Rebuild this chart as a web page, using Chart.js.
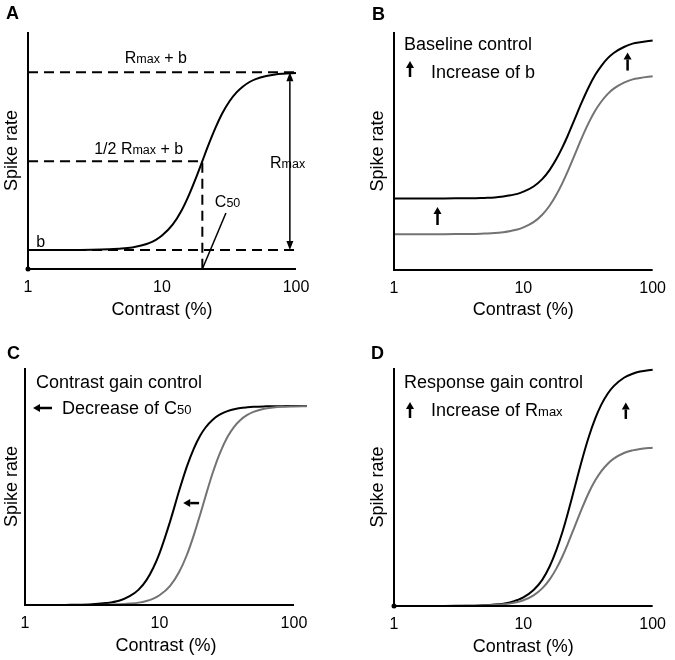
<!DOCTYPE html>
<html>
<head>
<meta charset="utf-8">
<script src="https://cdn.jsdelivr.net/npm/chart.js@4.4.1/dist/chart.umd.min.js"></script>
<style>
  body { margin: 0; background: #fff; overflow: hidden; }
  #wrap { position: relative; width: 675px; height: 660px; }
  canvas { position: absolute; }
</style>
</head>
<body>
<div id="wrap">
  <canvas id="chartA" width="337" height="330" style="left:0;top:0"></canvas>
  <canvas id="chartB" width="338" height="330" style="left:337px;top:0"></canvas>
  <canvas id="chartC" width="337" height="330" style="left:0;top:330px"></canvas>
  <canvas id="chartD" width="338" height="330" style="left:337px;top:330px"></canvas>
</div>
<script>
// --- DATA ---
const contrast = [1, 2, 3, 4, 5, 6, 7, 8, 9, 10, 12, 14, 16, 18, 20, 22, 25, 28, 32, 36, 40, 45, 50, 60, 70, 80, 100];
const contrastC = [1, 2, 3, 4, 5, 6, 7, 8, 9, 10, 12, 14, 16, 18, 20, 22, 25, 28, 32, 36, 40, 45, 50, 60, 70, 80, 100, 125];
const tickValues = [1, 10, 100];

// A: single contrast response function
const rateA = [8.0, 8.0, 8.1, 8.3, 8.6, 9.1, 9.9, 10.9, 12.3, 14.1, 18.7, 24.7, 31.6, 38.7, 45.5, 51.7, 59.4, 65.4, 70.9, 74.5, 76.9, 78.9, 80.1, 81.4, 82.1, 82.4, 82.7];
const levelTop = 83;     // Rmax + b
const levelHalf = 45.5;  // 1/2 Rmax + b
const levelBase = 8;     // b
const c50A = 20;

// B: baseline control
const rateBHigh = [30.0, 30.0, 30.1, 30.1, 30.3, 30.5, 30.9, 31.4, 32.0, 32.9, 35.1, 38.2, 42.1, 46.6, 51.4, 56.3, 63.5, 69.9, 76.8, 82.0, 85.7, 89.0, 91.2, 93.7, 95.1, 95.7, 96.4];
const rateBLow = [15.0, 15.0, 15.1, 15.1, 15.3, 15.5, 15.9, 16.4, 17.0, 17.9, 20.1, 23.2, 27.1, 31.6, 36.4, 41.3, 48.5, 54.9, 61.8, 67.0, 70.7, 74.0, 76.2, 78.7, 80.1, 80.7, 81.4];

// C: contrast gain control
const rateCLeft = [0, 0.05, 0.2, 0.8, 1.8, 3.7, 6.5, 10.5, 15.7, 21.8, 35.3, 48.2, 58.5, 66.0, 71.3, 74.9, 78.3, 80.3, 81.8, 82.6, 83.1, 83.4, 83.6, 83.8, 83.9, 83.9, 84.0, 84.0];
const rateCRight = [0, 0, 0, 0.1, 0.3, 0.6, 1.0, 1.7, 2.7, 4.1, 8.1, 13.9, 21.2, 29.5, 37.9, 45.9, 56.1, 63.8, 70.9, 75.3, 78.1, 80.2, 81.5, 82.8, 83.3, 83.6, 83.8, 83.9];

// D: response gain control
const rateDHigh = [0, 0, 0.1, 0.1, 0.3, 0.6, 1.0, 1.6, 2.5, 3.6, 6.7, 11.0, 16.7, 23.5, 30.9, 38.7, 50.0, 60.1, 70.9, 78.8, 84.5, 89.3, 92.4, 95.9, 97.6, 98.5, 99.3];
const rateDLow = [0, 0, 0, 0.1, 0.2, 0.4, 0.7, 1.1, 1.7, 2.4, 4.5, 7.4, 11.2, 15.7, 20.7, 25.9, 33.5, 40.2, 47.5, 52.8, 56.6, 59.8, 61.9, 64.3, 65.4, 66.0, 66.5];

const BLACK = '#000';
const GRAY = '#737373';
const FONT = '"Liberation Sans", Arial, Helvetica, sans-serif';

// --- helpers ---
function pts(xs, ys) {
    return xs.map((x, i) => ({ x: x, y: ys[i] }));
}

function curve(xs, ys, color) {
    return {
        data: pts(xs, ys),
        borderColor: color,
        borderWidth: 2,
        pointRadius: 0,
        cubicInterpolationMode: 'monotone',
        fill: false,
        clip: false
    };
}

function guide(xs, ys, dash, width) {
    return {
        data: pts(xs, ys),
        borderColor: BLACK,
        borderWidth: width || 2,
        borderDash: dash,
        pointRadius: 0,
        tension: 0,
        fill: false,
        clip: false
    };
}

// text made of parts with different sizes, e.g. R + small "max"
function drawParts(ctx, x, y, parts, align) {
    let total = 0;
    parts.forEach(p => {
        ctx.font = (p[2] || '') + ' ' + p[1] + 'px ' + FONT;
        total += ctx.measureText(p[0]).width;
    });
    let cx = align === 'center' ? x - total / 2 : x;
    ctx.textAlign = 'left';
    ctx.textBaseline = 'alphabetic';
    ctx.fillStyle = BLACK;
    parts.forEach(p => {
        ctx.font = (p[2] || '') + ' ' + p[1] + 'px ' + FONT;
        ctx.fillText(p[0], cx, y);
        cx += ctx.measureText(p[0]).width;
    });
}

function drawArrow(ctx, x1, y1, x2, y2, lw, hl, hw) {
    const ang = Math.atan2(y2 - y1, x2 - x1);
    const bx = x2 - hl * Math.cos(ang), by = y2 - hl * Math.sin(ang);
    ctx.save();
    ctx.strokeStyle = BLACK;
    ctx.fillStyle = BLACK;
    ctx.lineWidth = lw;
    ctx.beginPath();
    ctx.moveTo(x1, y1);
    ctx.lineTo(bx, by);
    ctx.stroke();
    ctx.beginPath();
    ctx.moveTo(x2, y2);
    ctx.lineTo(bx + hw / 2 * Math.sin(ang), by - hw / 2 * Math.cos(ang));
    ctx.lineTo(bx - hw / 2 * Math.sin(ang), by + hw / 2 * Math.cos(ang));
    ctx.closePath();
    ctx.fill();
    ctx.restore();
}

// axes drawn by hand so the x axis can stop at 100 while curves run on (panel C)
const axesPlugin = {
    id: 'axesPlugin',
    afterDatasetsDraw(chart, args, opts) {
        const ctx = chart.ctx;
        const area = chart.chartArea;
        const xEnd = chart.scales.x.getPixelForValue(100);
        ctx.save();
        ctx.strokeStyle = BLACK;
        ctx.lineWidth = 2;
        ctx.beginPath();
        ctx.moveTo(area.left, area.top);
        ctx.lineTo(area.left, area.bottom);
        ctx.lineTo(xEnd, area.bottom);
        ctx.stroke();
        if (opts.dot) {
            ctx.fillStyle = BLACK;
            ctx.beginPath();
            ctx.arc(area.left, area.bottom, 2.5, 0, Math.PI * 2);
            ctx.fill();
        }
        ctx.restore();
        if (opts.notes) opts.notes(chart, ctx);
    }
};

function makeChart(id, p) {
    const ctx = document.getElementById(id).getContext('2d');
    return new Chart(ctx, {
        type: 'line',
        data: { datasets: p.datasets },
        options: {
            responsive: false,
            animation: false,
            devicePixelRatio: 1,
            layout: { padding: p.padding },
            plugins: {
                legend: { display: false },
                tooltip: { enabled: false },
                axesPlugin: { dot: p.dot, notes: p.notes }
            },
            scales: {
                x: {
                    type: 'logarithmic',
                    min: 1,
                    max: p.xMax,
                    grid: { display: false, drawTicks: false },
                    border: { display: false },
                    afterBuildTicks: s => { s.ticks = tickValues.map(v => ({ value: v })); },
                    afterFit: s => { s.height = p.xHeight; },
                    ticks: {
                        color: BLACK,
                        padding: 9,
                        maxRotation: 0,
                        autoSkip: false,
                        font: { family: FONT, size: 16 },
                        callback: v => String(v)
                    },
                    title: {
                        display: true,
                        text: 'Contrast (%)',
                        color: BLACK,
                        font: { family: FONT, size: 18 },
                        padding: { top: 0, bottom: p.titlePad }
                    }
                },
                y: {
                    min: 0,
                    max: 100,
                    grid: { display: false, drawTicks: false },
                    border: { display: false },
                    ticks: { display: false },
                    afterFit: s => { s.width = p.yWidth; },
                    title: {
                        display: true,
                        text: 'Spike rate',
                        color: BLACK,
                        font: { family: FONT, size: 18 },
                        padding: { top: 1, bottom: 0 }
                    }
                }
            }
        },
        plugins: [axesPlugin]
    });
}

const S = 16, SM = 12.5, H = 18;

// --- Panel A ---
makeChart('chartA', {
    padding: { left: 0, right: 41, top: 32, bottom: 0 },
    yWidth: 28, xHeight: 61, xMax: 100, titlePad: 9, dot: true,
    datasets: [
        guide([1, 100], [levelTop, levelTop], [10, 6]),
        guide([1, c50A, c50A], [levelHalf, levelHalf, 0], [10, 6]),
        guide([1, 100], [levelBase, levelBase], [10, 6]),
        guide([c50A, 30], [0, 23.6], [], 1.5),
        curve(contrast, rateA, BLACK)
    ],
    notes: (chart, ctx) => {
        const x = chart.scales.x, y = chart.scales.y;
        drawParts(ctx, 6, 19, [['A', 18, 'bold']]);
        drawParts(ctx, x.getPixelForValue(9), y.getPixelForValue(87), [['R', S], ['max', SM], [' + b', S]], 'center');
        drawParts(ctx, x.getPixelForValue(6.7), y.getPixelForValue(48.5), [['1/2 R', S], ['max', SM], [' + b', S]], 'center');
        drawParts(ctx, x.getPixelForValue(64), y.getPixelForValue(42.6), [['R', S], ['max', SM]]);
        drawParts(ctx, x.getPixelForValue(1.15), y.getPixelForValue(9.3), [['b', S]]);
        drawParts(ctx, x.getPixelForValue(24.8), y.getPixelForValue(26.2), [['C', S], ['50', SM]]);
        const ax = x.getPixelForValue(90);
        const yt = y.getPixelForValue(levelTop), yb = y.getPixelForValue(levelBase);
        const ym = (yt + yb) / 2;
        drawArrow(ctx, ax, ym, ax, yt, 1.5, 9, 7);
        drawArrow(ctx, ax, ym, ax, yb, 1.5, 9, 7);
    }
});

// --- Panel B ---
makeChart('chartB', {
    padding: { left: 29, right: 14, top: 32, bottom: 0 },
    yWidth: 28, xHeight: 60, xMax: 100, titlePad: 9, dot: false,
    datasets: [
        curve(contrast, rateBLow, GRAY),
        curve(contrast, rateBHigh, BLACK)
    ],
    notes: (chart, ctx) => {
        const x = chart.scales.x, y = chart.scales.y;
        drawParts(ctx, 35, 20, [['B', 18, 'bold']]);
        drawParts(ctx, 67, 50, [['Baseline control', H]]);
        drawArrow(ctx, 73, 77, 73, 61, 2.5, 7, 8);
        drawParts(ctx, 94, 78, [['Increase of b', H]]);
        drawArrow(ctx, x.getPixelForValue(2.17), y.getPixelForValue(18.9), x.getPixelForValue(2.17), y.getPixelForValue(26.5), 2.5, 7, 8);
        drawArrow(ctx, x.getPixelForValue(64), y.getPixelForValue(83.8), x.getPixelForValue(64), y.getPixelForValue(91.4), 2.5, 7, 8);
    }
});

// --- Panel C ---
makeChart('chartC', {
    padding: { left: 0, right: 30, top: 38, bottom: 0 },
    yWidth: 25, xHeight: 55, xMax: 125, titlePad: 3, dot: false,
    datasets: [
        curve(contrastC, rateCRight, GRAY),
        curve(contrastC, rateCLeft, BLACK)
    ],
    notes: (chart, ctx) => {
        const x = chart.scales.x, y = chart.scales.y;
        drawParts(ctx, 7, 29, [['C', 18, 'bold']]);
        drawParts(ctx, 36, 58, [['Contrast gain control', H]]);
        drawArrow(ctx, 52, 78, 33, 78, 2.5, 7, 8);
        drawParts(ctx, 62, 84, [['Decrease of C', H], ['50', SM + 0.5]]);
        drawArrow(ctx, x.getPixelForValue(19.7), y.getPixelForValue(43), x.getPixelForValue(15), y.getPixelForValue(43), 2.5, 7, 8);
    }
});

// --- Panel D ---
makeChart('chartD', {
    padding: { left: 29, right: 14, top: 38, bottom: 0 },
    yWidth: 28, xHeight: 54, xMax: 100, titlePad: 2, dot: true,
    datasets: [
        curve(contrast, rateDLow, GRAY),
        curve(contrast, rateDHigh, BLACK)
    ],
    notes: (chart, ctx) => {
        const x = chart.scales.x, y = chart.scales.y;
        drawParts(ctx, 34, 29, [['D', 18, 'bold']]);
        drawParts(ctx, 67, 58, [['Response gain control', H]]);
        drawArrow(ctx, 73, 88, 73, 72, 2.5, 7, 8);
        drawParts(ctx, 94, 86, [['Increase of R', H], ['max', SM + 0.5]]);
        drawArrow(ctx, x.getPixelForValue(62), y.getPixelForValue(78.6), x.getPixelForValue(62), y.getPixelForValue(85.5), 2.5, 7, 8);
    }
});
</script>
</body>
</html>
